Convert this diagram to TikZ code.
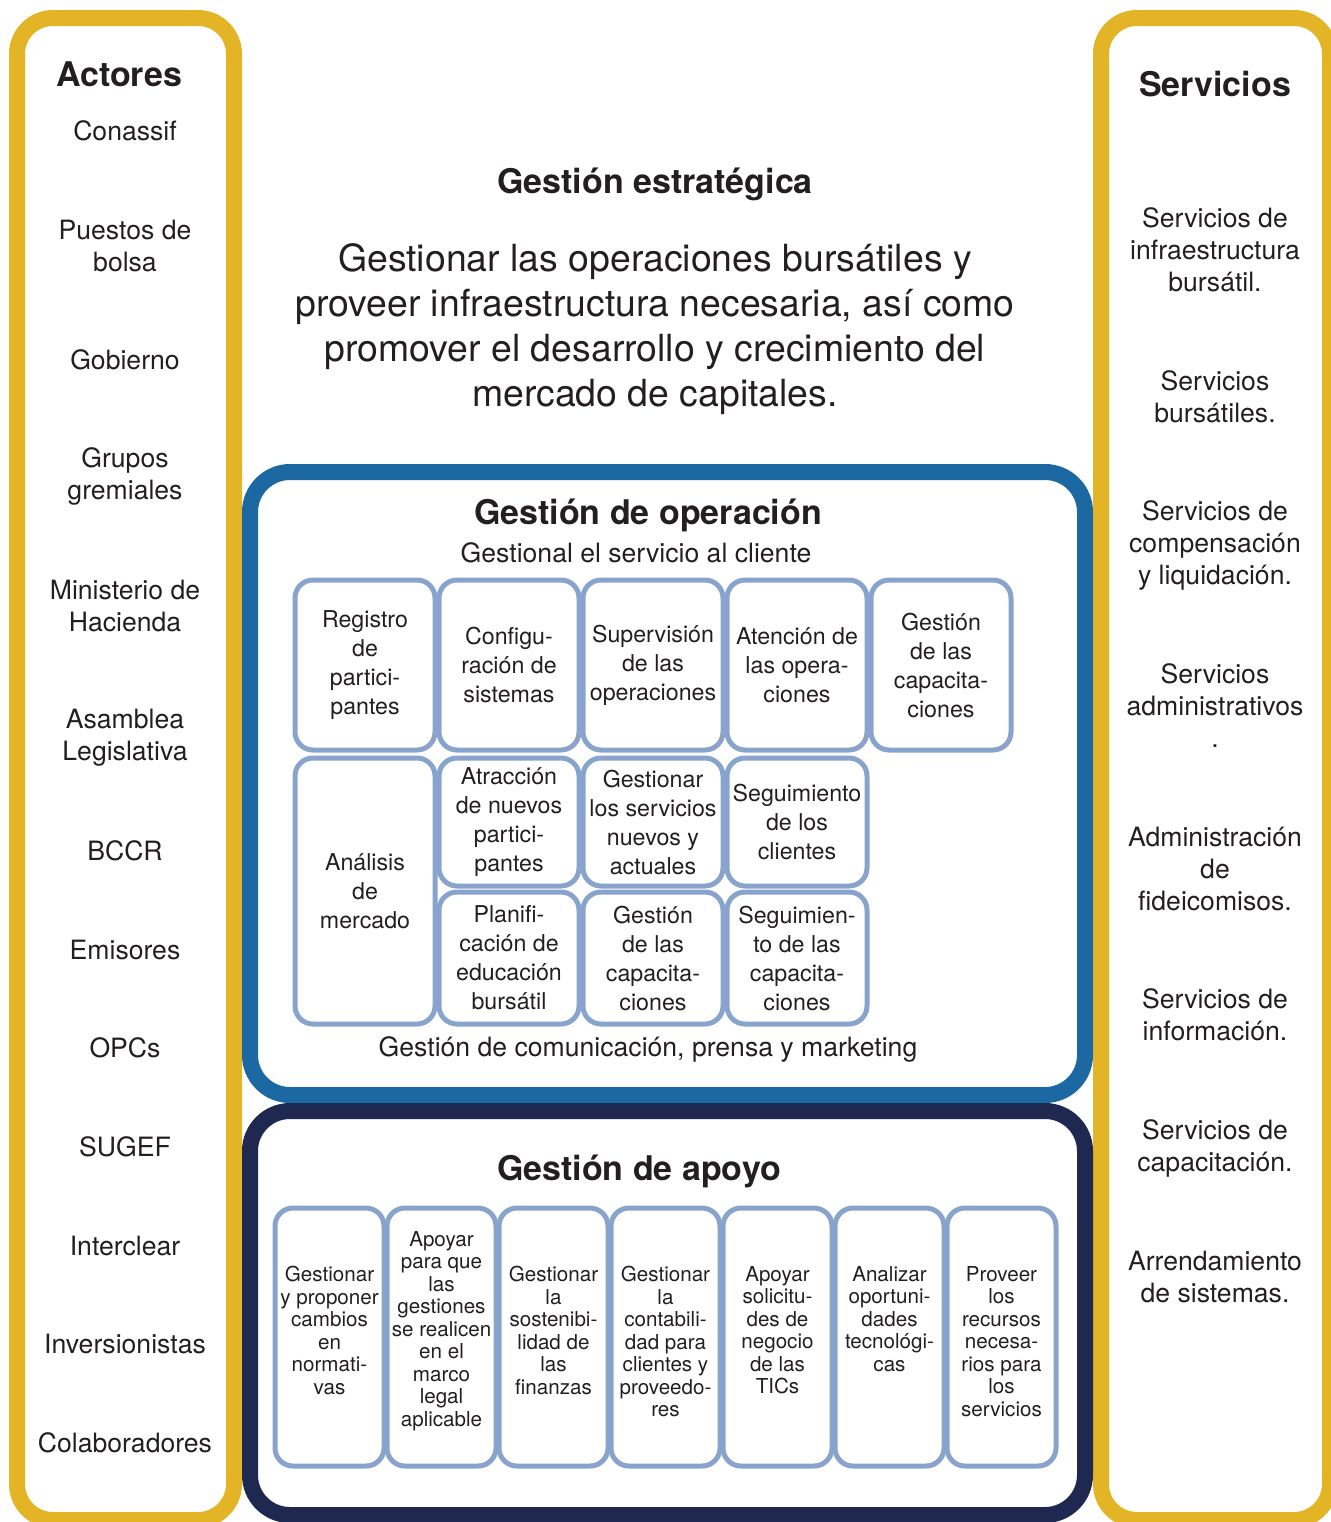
\documentclass[tikz,border=0pt]{standalone}
\usepackage{fontspec}
\setmainfont{TeX Gyre Heros}
\definecolor{oro}{HTML}{E3B426}
\definecolor{azul}{HTML}{1B68A3}
\definecolor{marino}{HTML}{1F2851}
\definecolor{celeste}{HTML}{88A4CD}
\definecolor{tinta}{HTML}{231F20}
\begin{document}
\begin{tikzpicture}[x=0.5pt,y=-0.5pt]
            \tikzstyle{every node} = [text=tinta, align=center, inner sep=0pt]
            \tikzstyle{marco} = [line width=8pt, rounded corners=18pt]
            \tikzstyle{lado} = [font=\fontsize{13.3}{16}\selectfont]
            \tikzstyle{titulo} = [font=\fontsize{17}{20}\selectfont\bfseries]
            \tikzstyle{op} = [draw=celeste, line width=2.5pt, rounded corners=9pt, minimum width=70pt, font=\fontsize{11.6}{14.5}\selectfont]
            \tikzstyle{apoyo} = [draw=celeste, line width=2.5pt, rounded corners=9pt, minimum width=54.5pt, minimum height=129pt]
            \tikzstyle{nota} = [anchor=north, font=\fontsize{10.3}{11.25}\selectfont]
            \useasboundingbox (0,0) rectangle (1331,1522);
            \draw[marco, oro] (17,18) rectangle (234,1520);
            \draw[marco, oro] (1101,18) rectangle (1330,1520);
            \draw[marco, azul, rounded corners=20pt] (250,472) rectangle (1085,1095);
            \draw[marco, marino, rounded corners=20pt] (250,1111) rectangle (1085,1515);
            \node[titulo] (actores) at (119,74) {Actores};
            \node[lado] (conassif) at (125,131) {Conassif};
            \node[lado] (puestos) at (125,246) {Puestos de\\bolsa};
            \node[lado] (gobierno) at (125,360) {Gobierno};
            \node[lado] (gremios) at (125,476) {Grupos\\gremiales};
            \node[lado] (hacienda) at (125,606) {Ministerio de\\Hacienda};
            \node[lado] (asamblea) at (125,738) {Asamblea\\Legislativa};
            \node[lado] (bccr) at (125,851) {BCCR};
            \node[lado] (emisores) at (125,950) {Emisores};
            \node[lado] (opcs) at (125,1048) {OPCs};
            \node[lado] (sugef) at (125,1147) {SUGEF};
            \node[lado] (interclear) at (125,1246) {Interclear};
            \node[lado] (inversion) at (125,1344) {Inversionistas};
            \node[lado] (colab) at (125,1443) {Colaboradores};
            \node[titulo] (servicios) at (1215,84) {Servicios};
            \node[lado] (s1) at (1215,250) {Servicios de\\infraestructura\\bursátil.};
            \node[lado] (s2) at (1215,397) {Servicios\\bursátiles.};
            \node[lado] (s3) at (1215,545) {Servicios de\\compensación\\y liquidación.};
            \node[lado] (s4) at (1215,706) {Servicios\\administrativos\\.};
            \node[lado] (s5) at (1215,869) {Administración\\de\\fideicomisos.};
            \node[lado] (s6) at (1215,1015) {Servicios de\\información.};
            \node[lado] (s7) at (1215,1148) {Servicios de\\capacitación.};
            \node[lado] (s8) at (1215,1277) {Arrendamiento\\de sistemas.};
            \node[titulo] (estrategica) at (655,184) {Gestión estratégica};
            \node[font=\fontsize{18.7}{22.5}\selectfont] (mision) at (655,329) {Gestionar las operaciones bursátiles y\\proveer infraestructura necesaria, así como\\promover el desarrollo y crecimiento del\\mercado de capitales.};
            \node[titulo] (operacion) at (648,515) {Gestión de operación};
            \node[lado] (cliente) at (636,553) {Gestional el servicio al cliente};
            \node[op, minimum height=85pt] (reg) at (365,665) {Registro\\de\\partici-\\pantes};
            \node[op, minimum height=85pt] (conf) at (509,665) {Configu-\\ración de\\sistemas};
            \node[op, minimum height=85pt] (sup) at (653,665) {Supervisión\\de las\\operaciones};
            \node[op, minimum height=85pt] (ate) at (797,665) {Atención de\\las opera-\\ciones};
            \node[op, minimum height=85pt] (cap) at (941,665) {Gestión\\de las\\capacita-\\ciones};
            \node[op, minimum height=133pt] (ana) at (365,891) {Análisis\\de\\mercado};
            \node[op, minimum height=64pt] (atr) at (509,822) {Atracción\\de nuevos\\partici-\\pantes};
            \node[op, minimum height=64pt] (ges) at (653,822) {Gestionar\\los servicios\\nuevos y\\actuales};
            \node[op, minimum height=64pt] (seg) at (797,822) {Seguimiento\\de los\\clientes};
            \node[op, minimum height=66pt] (pla) at (509,958) {Planifi-\\cación de\\educación\\bursátil};
            \node[op, minimum height=66pt] (gcap) at (653,958) {Gestión\\de las\\capacita-\\ciones};
            \node[op, minimum height=66pt] (segc) at (797,958) {Seguimien-\\to de las\\capacita-\\ciones};
            \node[lado] (prensa) at (648,1049) {Gestión de comunicación, prensa y marketing};
            \node[titulo] (apoyo) at (639,1171) {Gestión de apoyo};
            \node[apoyo] (nor) at (329.5,1337) {};
            \node[apoyo] (mar) at (441.5,1337) {};
            \node[apoyo] (fin) at (553.5,1337) {};
            \node[apoyo] (con) at (665.5,1337) {};
            \node[apoyo] (tic) at (777.5,1337) {};
            \node[apoyo] (opo) at (889.5,1337) {};
            \node[apoyo] (rec) at (1001.5,1337) {};
            \node[nota] (nor-t) at (329.5,1266) {Gestionar\\y proponer\\cambios\\en\\normati-\\vas};
            \node[nota] (mar-t) at (441.5,1231) {Apoyar\\para que\\las\\gestiones\\se realicen\\en el\\marco\\legal\\aplicable};
            \node[nota] (fin-t) at (553.5,1266) {Gestionar\\la\\sostenibi-\\lidad de\\las\\finanzas};
            \node[nota] (con-t) at (665.5,1266) {Gestionar\\la\\contabili-\\dad para\\clientes y\\proveedo-\\res};
            \node[nota] (tic-t) at (777.5,1266) {Apoyar\\solicitu-\\des de\\negocio\\de las\\TICs};
            \node[nota] (opo-t) at (889.5,1266) {Analizar\\oportuni-\\dades\\tecnológi-\\cas};
            \node[nota] (rec-t) at (1001.5,1266) {Proveer\\los\\recursos\\necesa-\\rios para\\los\\servicios};
        \end{tikzpicture}
\end{document}
